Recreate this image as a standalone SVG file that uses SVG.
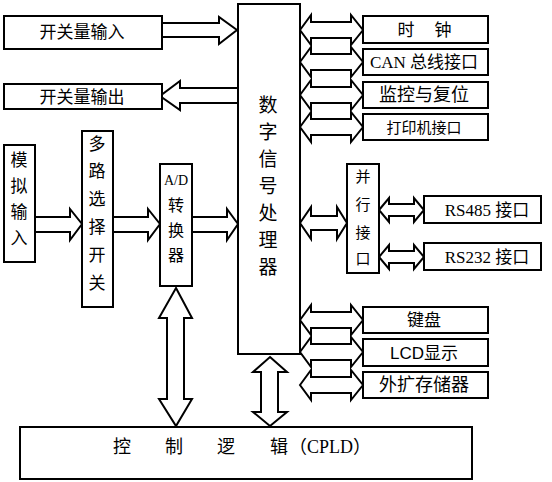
<svg xmlns="http://www.w3.org/2000/svg" width="552" height="482" viewBox="0 0 552 482">
<style>
.box{fill:#fff;stroke:#000;stroke-width:2}
.arr{fill:#fff;stroke:#000;stroke-width:2;stroke-linejoin:miter}
.t{font-family:"Liberation Serif","Noto Sans CJK SC",serif;fill:#000;text-anchor:middle}
.s{font-family:"Liberation Sans","Noto Sans CJK SC",sans-serif;fill:#000;text-anchor:middle}
</style>
<rect width="552" height="482" fill="#fff"/>
<g id="connectors">
<path class="arr" d="M162,23 H219 V17 L237,30 L219,44 V37 H162"/>
<path class="arr" d="M237,88 H180 V81 L160,96 L180,110 V103 H237"/>
<path class="arr" d="M35,217 H70 V209 L82,224 L70,240 V232 H35"/>
<path class="arr" d="M113,217 H148 V209 L160,224 L148,240 V232 H113"/>
<path class="arr" d="M192,217 H227 V209 L238,224 L227,240 V232 H192"/>
<path class="arr" d="M300,30 L311,15 V22 H351 V15 L363,30 L351,45 V38 H311 V45 Z"/>
<path class="arr" d="M300,62 L311,47 V54 H351 V47 L363,62 L351,77 V70 H311 V77 Z"/>
<path class="arr" d="M300,95 L311,80 V87 H351 V80 L363,95 L351,110 V103 H311 V110 Z"/>
<path class="arr" d="M300,127 L311,112 V119 H351 V112 L363,127 L351,142 V135 H311 V142 Z"/>
<path class="arr" d="M300,320 L311,305 V312 H351 V305 L363,320 L351,335 V328 H311 V335 Z"/>
<path class="arr" d="M300,352 L311,337 V344 H351 V337 L363,352 L351,367 V360 H311 V367 Z"/>
<path class="arr" d="M300,385 L311,370 V377 H351 V370 L363,385 L351,400 V393 H311 V400 Z"/>
<path class="arr" d="M300,223 L311,207 V216 H337 V207 L347,223 L337,239 V230 H311 V239 Z"/>
<path class="arr" d="M379,210 L389,198 V204 H414 V198 L424,210 L414,222 V216 H389 V222 Z"/>
<path class="arr" d="M379,257 L389,245 V251 H414 V245 L424,257 L414,269 V263 H389 V269 Z"/>
<path class="arr" d="M176,288 L192,318 H184 V399 H192 L176,426 L159,399 H167 V318 H159 Z"/>
<path class="arr" d="M270,357 L287,372 H278 V412 H287 L270,426 L253,412 H261 V372 H253 Z"/>
</g>
<g id="dsp">
<rect class="box" x="238" y="4" width="62" height="350"/>
<text class="s" font-size="19"><tspan x="268" y="112">数</tspan><tspan x="268" y="139">字</tspan><tspan x="268" y="166">信</tspan><tspan x="268" y="193">号</tspan><tspan x="268" y="220">处</tspan><tspan x="268" y="247">理</tspan><tspan x="268" y="274">器</tspan></text>
</g>
<g id="sw-in"><rect class="box" x="4" y="16" width="158" height="33"/><text class="s" x="82" y="38" font-size="17">开关量输入</text></g>
<g id="sw-out"><rect class="box" x="4" y="84" width="158" height="25"/><text class="s" x="82" y="103" font-size="17">开关量输出</text></g>
<g id="analog"><rect class="box" x="4" y="145" width="31" height="117"/><text class="s" font-size="17"><tspan x="19" y="166">模</tspan><tspan x="19" y="192">拟</tspan><tspan x="19" y="218">输</tspan><tspan x="19" y="244">入</tspan></text></g>
<g id="mux"><rect class="box" x="82" y="131" width="31" height="176"/><text class="s" font-size="17"><tspan x="97" y="150">多</tspan><tspan x="97" y="177">路</tspan><tspan x="97" y="205">选</tspan><tspan x="97" y="233">择</tspan><tspan x="97" y="261">开</tspan><tspan x="97" y="289">关</tspan></text></g>
<g id="adc"><rect class="box" x="160" y="164" width="32" height="122"/><text class="t" x="176" y="185" font-size="14">A/D</text><text class="s" font-size="16"><tspan x="176" y="211">转</tspan><tspan x="176" y="236">换</tspan><tspan x="176" y="261">器</tspan></text></g>
<g id="clock"><rect class="box" x="363" y="16" width="125" height="27"/><text class="s" font-size="17"><tspan x="406" y="36">时</tspan><tspan x="443" y="36">钟</tspan></text></g>
<g id="can"><rect class="box" x="363" y="49" width="125" height="26"/><text class="t" x="424" y="68" font-size="17">CAN 总线接口</text></g>
<g id="wdt"><rect class="box" x="363" y="82" width="125" height="26"/><text class="s" x="424" y="101" font-size="18">监控与复位</text></g>
<g id="printer"><rect class="box" x="363" y="114" width="125" height="26"/><text class="s" x="424" y="133" font-size="15">打印机接口</text></g>
<g id="parallel"><rect class="box" x="347" y="164" width="32" height="109"/><text class="s" font-size="15"><tspan x="363" y="182">并</tspan><tspan x="363" y="210">行</tspan><tspan x="363" y="238">接</tspan><tspan x="363" y="264">口</tspan></text></g>
<g id="rs485"><rect class="box" x="424" y="196" width="117" height="27"/><text class="t" x="487" y="216" font-size="17">RS485 接口</text></g>
<g id="rs232"><rect class="box" x="424" y="243" width="117" height="27"/><text class="t" x="487" y="263" font-size="17">RS232 接口</text></g>
<g id="kbd"><rect class="box" x="363" y="307" width="125" height="26"/><text class="s" x="424" y="326" font-size="17">键盘</text></g>
<g id="lcd"><rect class="box" x="363" y="339" width="125" height="27"/><text class="s" x="424" y="359" font-size="17">LCD显示</text></g>
<g id="mem"><rect class="box" x="363" y="372" width="125" height="26"/><text class="s" x="424" y="391" font-size="18">外扩存储器</text></g>
<g id="cpld"><rect class="box" x="20" y="427" width="452" height="52"/><text class="t" font-size="18" y="453"><tspan x="122">控</tspan><tspan x="174">制</tspan><tspan x="226">逻</tspan><tspan x="279">辑</tspan><tspan x="330">（CPLD）</tspan></text></g>
</svg>
